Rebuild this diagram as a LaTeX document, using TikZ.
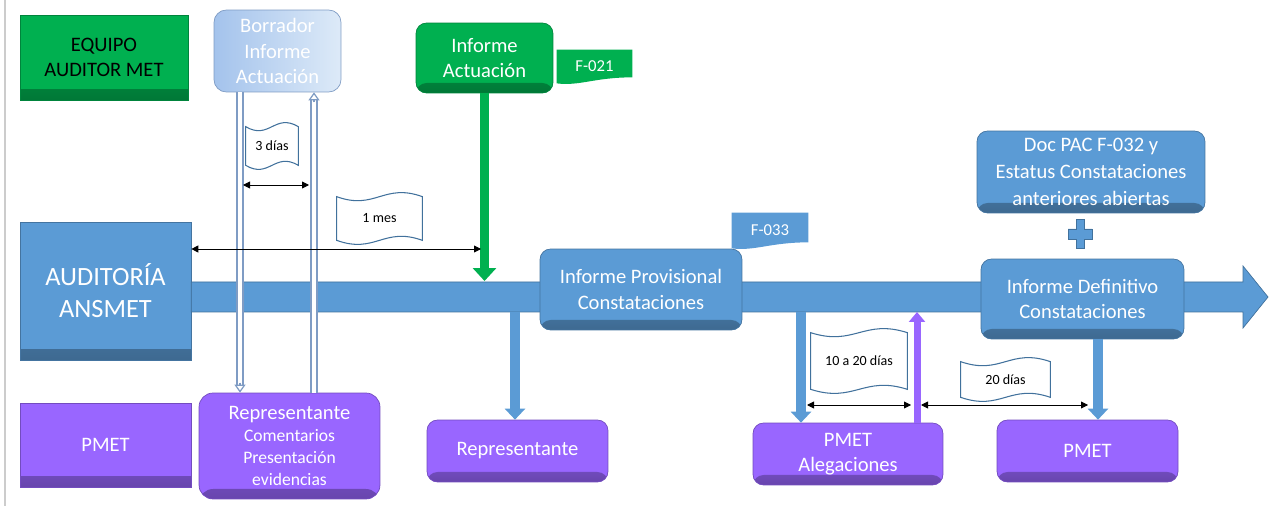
\documentclass[tikz,border=0pt]{standalone}
\usepackage{fontspec}
\setmainfont{Carlito}
\usepackage{tikz}
\usetikzlibrary{arrows.meta,calc,backgrounds}
\definecolor{ansblue}{HTML}{5B9BD5}
\definecolor{blueedge}{HTML}{41719C}
\definecolor{pmetpurple}{HTML}{9966FF}
\definecolor{audgreen}{HTML}{00B050}
\definecolor{draftleft}{HTML}{A4C3EC}
\definecolor{draftright}{HTML}{DDEAF8}
\definecolor{hollowedge}{HTML}{7F9CC4}

% wavy banner drawn round a node
\newcommand{\waveflag}[2]{%
  \draw[flagline] (#1.north west)
    .. controls ($(#1.north west)!0.45!(#1.north east)+(0,#2)$) and ($(#1.north west)!0.55!(#1.north east)+(0,-#2)$) .. (#1.north east)
    -- (#1.south east)
    .. controls ($(#1.south west)!0.55!(#1.south east)+(0,-#2)$) and ($(#1.south west)!0.45!(#1.south east)+(0,#2)$) .. (#1.south west)
    -- cycle;}
% document tag with a wavy bottom
\newcommand{\wavetag}[2]{%
  \fill[#2] (#1.north west) -- (#1.north east) -- ($(#1.south east)+(0,-6)$)
    .. controls ($(#1.south)+(0,-6)$) and ($(#1.south west)!0.3!(#1.south east)+(0,3)$) .. (#1.south west) -- cycle;}

\begin{document}
\begin{tikzpicture}[x=0.02cm, y=-0.02cm,
  base/.style={font=\fontsize{11.7}{14.3}\selectfont, align=center, text=white, inner sep=1pt},
  shadowed/.style={path picture={\shade[top color=#1, bottom color=#1!68!black]
      ([yshift=0.2cm]path picture bounding box.south west) rectangle (path picture bounding box.south east);}},
  sqbox/.style={base, draw=#1!75!black, fill=#1, shadowed=#1},
  rbox/.style={base, rounded corners=6pt, draw=#1!75!black, fill=#1, shadowed=#1},
  draftbox/.style={base, rounded corners=7pt, draw=hollowedge, left color=draftleft, right color=draftright},
  flagtxt/.style={font=\fontsize{8}{10}\selectfont, inner sep=0pt},
  flagline/.style={draw=blueedge, fill=white, line width=0.6pt},
  tagtxt/.style={font=\fontsize{9.5}{11}\selectfont, text=white, inner sep=0pt},
  dimarr/.style={{Triangle[length=0.14cm,width=0.14cm]}-{Triangle[length=0.14cm,width=0.14cm]}, line width=0.5pt},
  bluearr/.style={-{Triangle[length=0.22cm,width=0.40cm]}, line width=0.2cm, ansblue},
  greenarr/.style={-{Triangle[length=0.26cm,width=0.46cm]}, line width=0.18cm, audgreen},
  purparr/.style={-{Triangle[length=0.2cm,width=0.32cm]}, line width=0.14cm, pmetpurple},
  hollow/.style={draw=hollowedge, double=white, line width=0.8pt, double distance=2.4pt},
  hollowtip/.style={-{Triangle[length=0.16cm,width=0.22cm,fill=white]}, draw=hollowedge, line width=0.7pt},
  plusshape/.style={fill=ansblue, draw=blueedge, line width=0.5pt}
]
  \useasboundingbox (0,0) rectangle (1270,506);
  \draw[black!20, line width=0.6pt] (5,0) -- (5,506);

  \node[sqbox=audgreen, text=black, minimum width=3.36cm, minimum height=1.70cm] (equipo) at (104,57.5) {EQUIPO\\AUDITOR MET};
  \node[draftbox, minimum width=2.54cm, minimum height=1.64cm] (borr) at (277.5,51) {Borrador\\Informe\\Actuación};
  \node[rbox=audgreen, minimum width=2.74cm, minimum height=1.40cm] (actua) at (484.5,58) {Informe\\Actuación};
  \node[tagtxt, minimum width=1.5cm, minimum height=0.66cm] (f021) at (594.5,66.5) {F-021};
  \node[sqbox=ansblue, font=\fontsize{15}{18.2}\selectfont, minimum width=3.42cm, minimum height=2.76cm] (aud) at (105.5,291) {AUDITORÍA\\ANSMET};

  % time line
  \coordinate (tlend) at (1268,297);
  \coordinate (tlstart) at (aud.east |- tlend);
  \fill[ansblue, draw=blueedge, line width=0.4pt] ($(tlstart)+(0,-15)$) -- ($(tlend)+(-25,-15)$) -- ($(tlend)+(-25,-31)$)
    -- (tlend) -- ($(tlend)+(-25,31)$) -- ($(tlend)+(-25,15)$) -- ($(tlstart)+(0,15)$) -- cycle;

  \node[rbox=ansblue, minimum width=4.04cm, minimum height=1.62cm] (prov) at (641,289.5) {Informe Provisional\\Constataciones};
  \node[tagtxt, minimum width=1.52cm, minimum height=0.70cm] (f033) at (770,230.5) {F-033};
  \node[rbox=ansblue, font=\fontsize{11.7}{15.3}\selectfont, minimum width=4.56cm, minimum height=1.64cm] (docpac) at (1091,172)
    {Doc PAC F-032 y\\Estatus Constataciones\\anteriores abiertas};
  \node[rbox=ansblue, minimum width=4.06cm, minimum height=1.60cm] (defin) at (1082.5,299) {Informe Definitivo\\Constataciones};
  \coordinate (plus) at (1080,234);
  \draw[plusshape, shift={(plus)}] (-4,-14.5) -- (4,-14.5) -- (4,-5) -- (12,-5) -- (12,5) -- (4,5) -- (4,14.5)
    -- (-4,14.5) -- (-4,5) -- (-12,5) -- (-12,-5) -- (-4,-5) -- cycle;

  \node[sqbox=pmetpurple, minimum width=3.42cm, minimum height=1.68cm] (pmetl) at (105.5,445) {PMET};
  \node[rbox=pmetpurple, rounded corners=8pt, font=\fontsize{10}{12.5}\selectfont, minimum width=3.62cm, minimum height=2.12cm] (repcom) at (289.5,446)
    {{\fontsize{11.7}{12.5}\selectfont Representante}\\Comentarios\\Presentación\\evidencias};
  \node[rbox=pmetpurple, minimum width=3.62cm, minimum height=1.24cm] (rep) at (517.5,451) {Representante};
  \node[rbox=pmetpurple, minimum width=3.80cm, minimum height=1.24cm] (aleg) at (848,454) {PMET\\Alegaciones};
  \node[rbox=pmetpurple, minimum width=3.62cm, minimum height=1.24cm] (pmetr) at (1087.5,451) {PMET};

  % draft goes to the representative and back
  \path (borr.south -| 240,0) coordinate (dtop) (repcom.north -| 240,0) coordinate (dbot);
  \path (repcom.north -| 314,0) coordinate (utop) (borr.south -| 314,0) coordinate (uend);
  \draw[hollow, shorten >=0.16cm] (dtop) -- (dbot);
  \draw[hollowtip] ($(dbot)+(0,-10)$) -- (dbot);
  \draw[hollow, shorten >=0.16cm] (utop) -- (uend);
  \draw[hollowtip] ($(uend)+(0,10)$) -- (uend);

  \coordinate (gtip) at (actua.south |- 0,281);
  \draw[greenarr] (actua.south) -- (gtip);

  \coordinate (b1) at (515,312);
  \coordinate (b2) at (801,312);
  \coordinate (b3) at (917,312);
  \draw[bluearr] (b1) -- (b1 |- rep.north);
  \draw[bluearr] (b2) -- (b2 |- aleg.north);
  \draw[bluearr] (defin.south -| 1098,0) -- (pmetr.north -| 1098,0);
  \draw[purparr] (aleg.north -| b3) -- (b3);

  % durations
  \coordinate (d3a) at (243,185);  \coordinate (d3b) at (309,185);
  \coordinate (m1a) at (aud.east |- 0,249);  \coordinate (m1b) at (481,249);
  \coordinate (d10a) at (807,405); \coordinate (d10b) at (911,405);
  \coordinate (d20a) at (921,405); \coordinate (d20b) at (1088,405);
  \draw[dimarr] (d3a) -- (d3b);
  \draw[dimarr] (m1a) -- (m1b);
  \draw[dimarr] (d10a) -- (d10b);
  \draw[dimarr] (d20a) -- (d20b);

  \node[flagtxt, minimum width=1.04cm, minimum height=0.76cm] (dias3) at (272,146) {3 días};
  \node[flagtxt, minimum width=1.70cm, minimum height=0.86cm] (mes1) at (379.5,218.5) {1 mes};
  \node[flagtxt, minimum width=1.92cm, minimum height=1.12cm] (dias1020) at (859,361) {10 a 20 días};
  \node[flagtxt, minimum width=1.78cm, minimum height=0.70cm] (dias20) at (1005.5,379.5) {20 días};

  \begin{scope}[on background layer]
    \foreach \f in {dias3,mes1,dias1020,dias20} {\waveflag{\f}{14}}
    \wavetag{f021}{audgreen}
    \wavetag{f033}{ansblue}
  \end{scope}
\end{tikzpicture}
\end{document}
